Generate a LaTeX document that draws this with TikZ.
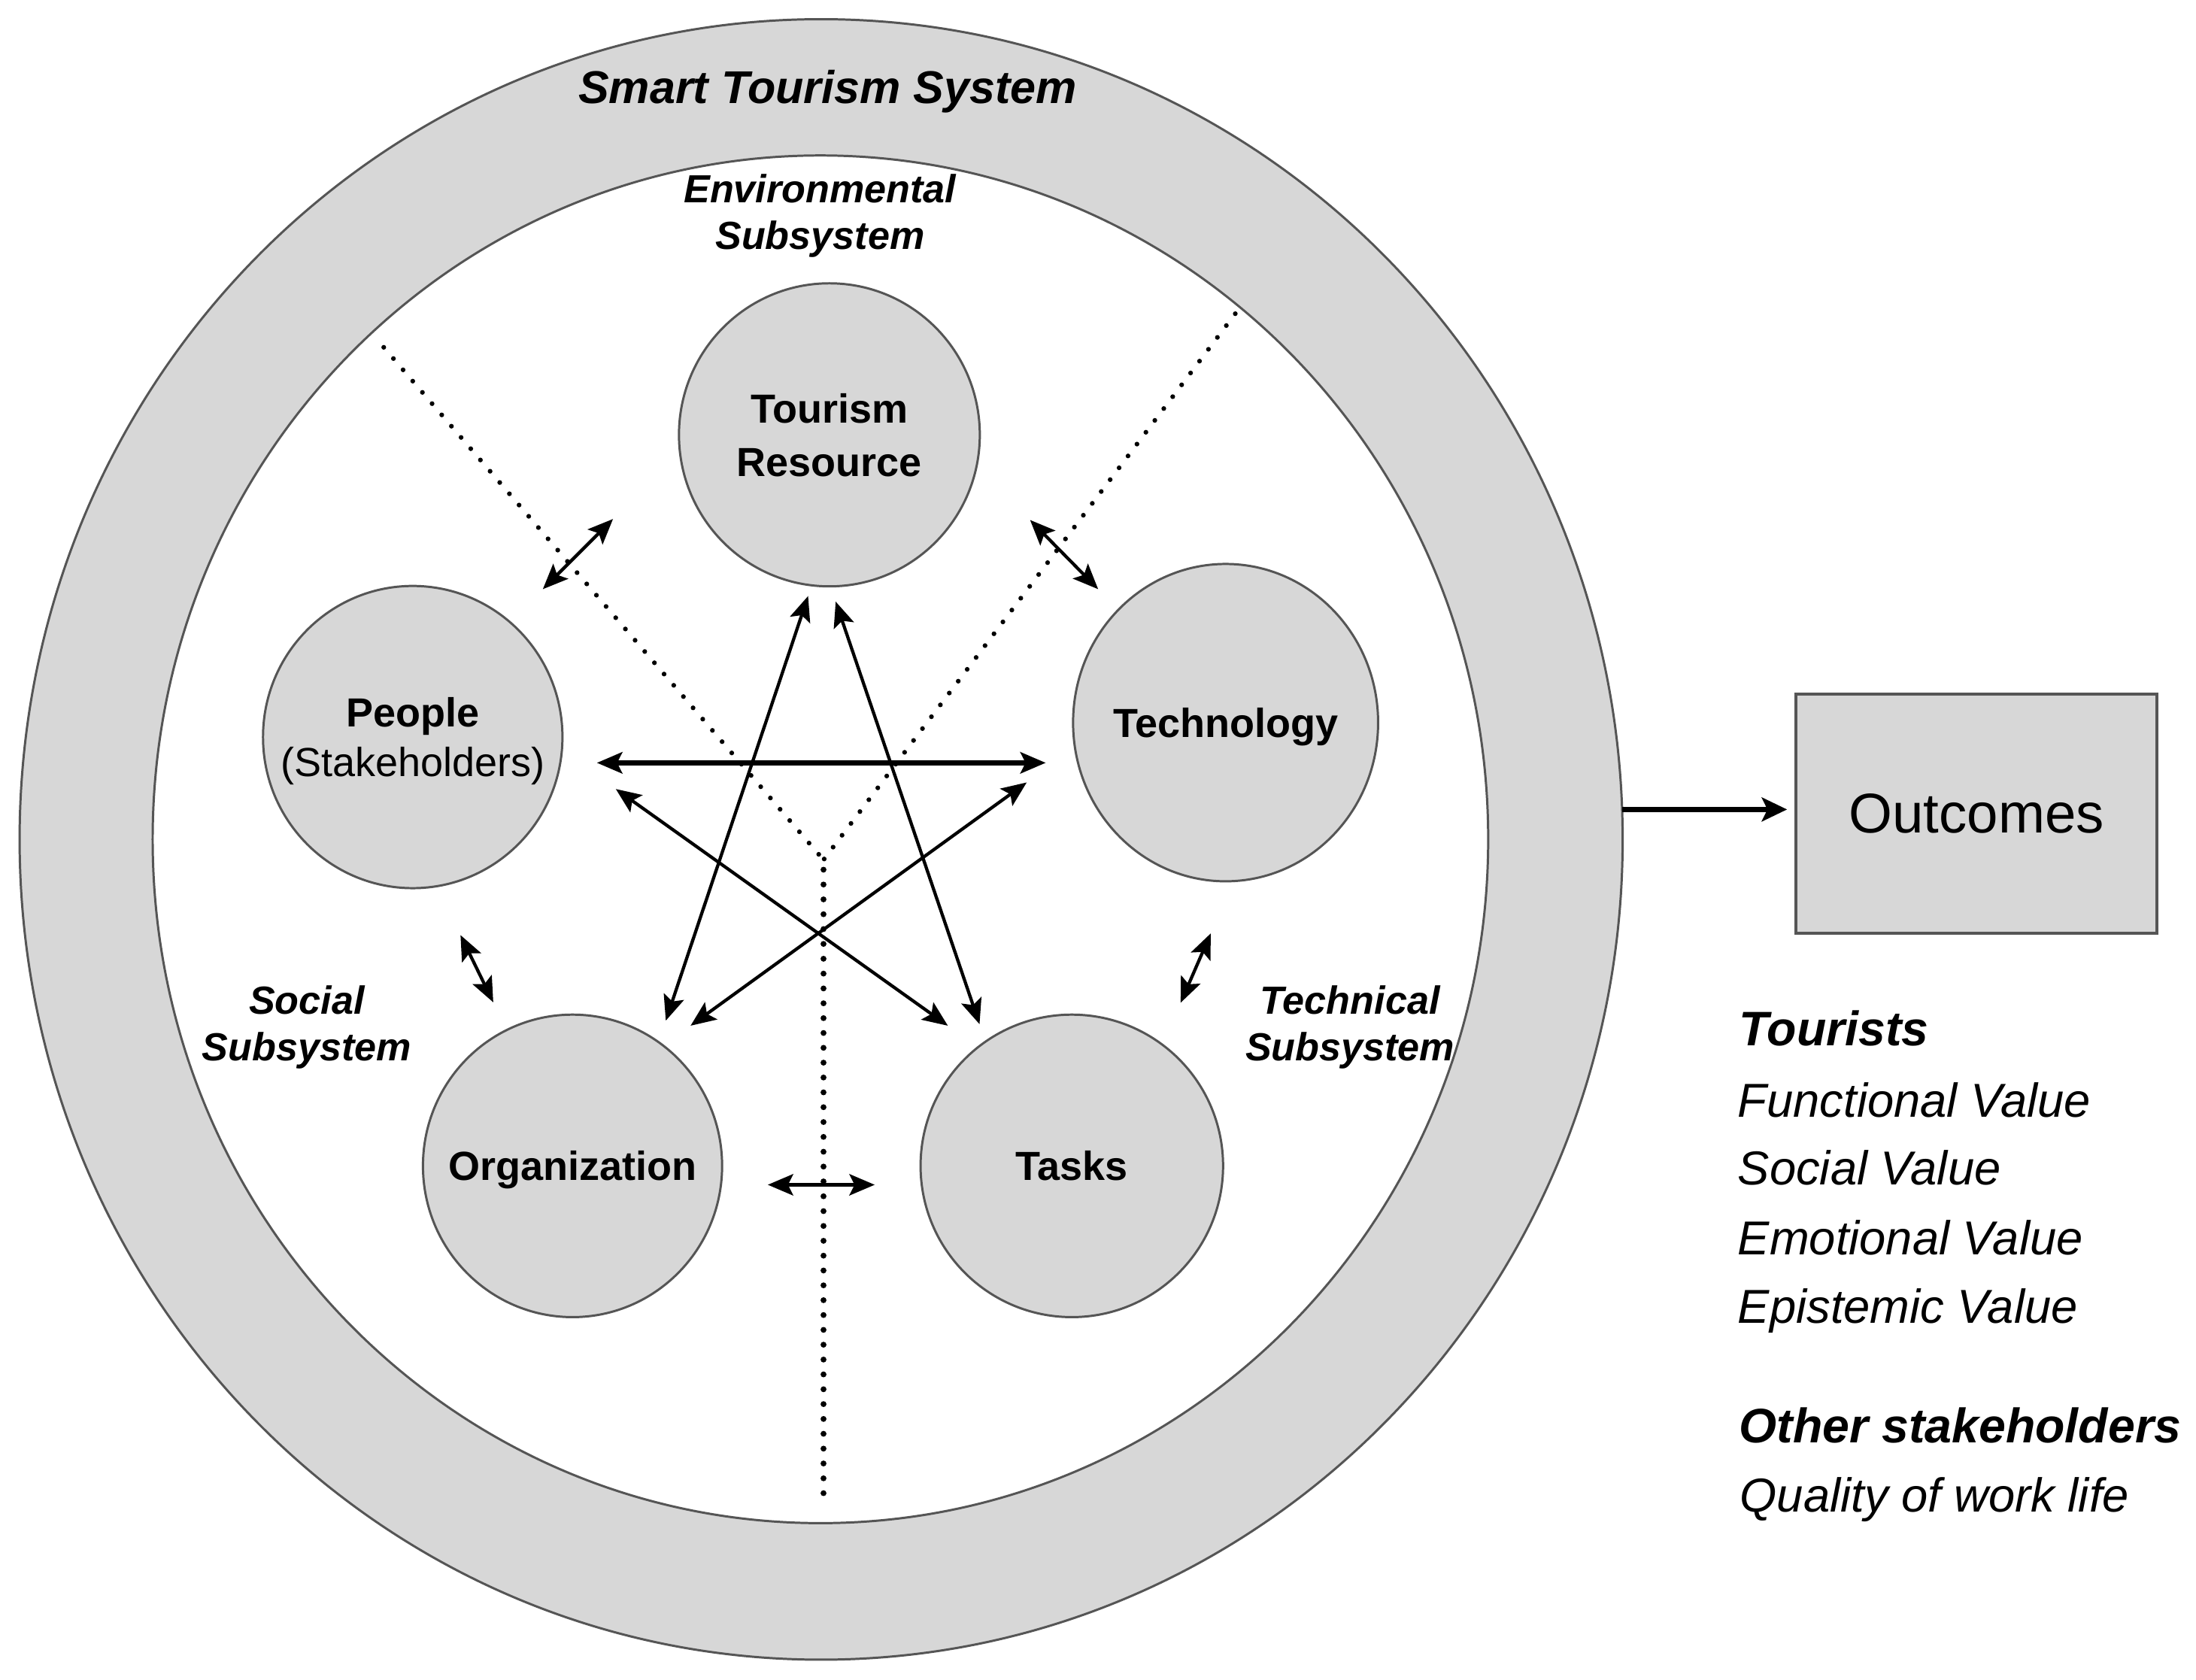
\documentclass[tikz,border=0pt]{standalone}
\usepackage{fontspec}
\setmainfont{Liberation Sans}
\usetikzlibrary{arrows.meta,shapes.geometric}
\definecolor{ringfill}{RGB}{215,215,215}
\definecolor{edgegray}{RGB}{85,85,85}
\begin{document}
\begin{tikzpicture}[x=0.5pt,y=-0.5pt,
  >={Stealth[length=9pt,width=7.5pt,inset=1.8pt]},
  ring/.style={ellipse, draw=edgegray, line width=0.8pt, inner sep=0pt},
  part/.style={ellipse, draw=edgegray, line width=0.8pt, fill=ringfill, inner xsep=-20pt, inner ysep=0pt, text depth=0pt, align=center, font=\fontsize{14.5}{18.9}\selectfont\bfseries},
  sublabel/.style={align=center, inner sep=0pt, text depth=0pt, font=\fontsize{14}{16.6}\selectfont\bfseries\itshape},
  rtext/.style={anchor=base west, inner sep=0pt, font=\fontsize{17}{20}\selectfont\itshape},
  rhead/.style={rtext, font=\fontsize{17.3}{20}\selectfont\bfseries\itshape},
  link/.style={<->, line width=1.15pt},
  divider/.style={line width=1.7pt, line cap=round, dash pattern=on 0pt off 5.3pt}
]
\useasboundingbox (0,0) rectangle (1568,1199.1);

% system ring
\node[ring, fill=ringfill, minimum width=572.3pt, minimum height=585.7pt] (sys) at (586.3,599.4) {};
\node[ring, fill=white, minimum width=476.8pt, minimum height=488.3pt] (inner) at (585.8,599.3) {};

% dividers
\coordinate (dTL) at (274,248);
\coordinate (dTR) at (882,224);
\coordinate (dV) at (588,614);
\coordinate (dV2) at (588,621);
\coordinate (dB) at (588,1074);
\draw[divider] (dTL) -- (dV);
\draw[divider] (dTR) -- (dV);
\draw[divider, line width=2.1pt] (dV2) -- (dB);

% labels
\node[anchor=base, inner sep=0pt, font=\fontsize{16.4}{20}\selectfont\bfseries\itshape] (sts) at (591,74) {Smart Tourism System};
\node[sublabel] (env) at (585.5,151.4) {Environmental\\Subsystem};
\node[sublabel, font=\fontsize{14}{16.8}\selectfont\bfseries\itshape] (soc) at (219,730.6) {Social\\Subsystem};
\node[sublabel, font=\fontsize{14}{16.8}\selectfont\bfseries\itshape] (tec) at (964,730.6) {Technical\\Subsystem};

% components
\node[part, minimum width=107.4pt, minimum height=108.2pt] (res) at (592.2,310.5) {Tourism\\Resource};
\node[part, minimum width=106.9pt, minimum height=107.9pt, font=\fontsize{14.5}{17.7}\selectfont\bfseries] (ppl) at (294.7,526.3) {People\\{\mdseries (Stakeholders)}};
\node[part, minimum width=108.9pt, minimum height=113.3pt] (tech) at (875.1,516) {Technology};
\node[part, minimum width=106.8pt, minimum height=108pt] (org) at (408.8,832.5) {Organization};
\node[part, minimum width=108pt, minimum height=108pt] (task) at (765.3,832.5) {Tasks};

% star arrows
\coordinate (a1) at (475.4,728.8); \coordinate (b1) at (577,425.6);
\coordinate (a2) at (699.4,731.3); \coordinate (b2) at (596.7,429.6);
\coordinate (a3) at (426.2,544.7); \coordinate (b3) at (746.7,544.7);
\coordinate (a4) at (439.7,563.4); \coordinate (b4) at (676.8,732.4);
\coordinate (a5) at (493.1,732.4); \coordinate (b5) at (733.1,558.7);
\draw[link] (a1) -- (b1);
\draw[link] (a2) -- (b2);
\draw[link, line width=1.8pt] (a3) -- (b3);
\draw[link] (a4) -- (b4);
\draw[link] (a5) -- (b5);

% neighbour arrows
\coordinate (c1) at (387.6,420.7); \coordinate (d1) at (437.7,370.6);
\coordinate (c2) at (735.5,371.3); \coordinate (d2) at (784.1,420.7);
\coordinate (c3) at (328.8,667.7); \coordinate (d3) at (352.2,715.7);
\coordinate (c4) at (864.5,666.5); \coordinate (d4) at (843,716);
\coordinate (c5) at (548.2,846); \coordinate (d5) at (624.6,846);
\draw[link] (c1) -- (d1);
\draw[link] (c2) -- (d2);
\draw[link] (c3) -- (d3);
\draw[link] (c4) -- (d4);
\draw[link, line width=1.6pt] (c5) -- (d5);

% outcomes
\node[draw=edgegray, line width=1pt, fill=ringfill, minimum width=128.9pt, minimum height=85.5pt, text depth=0pt, font=\fontsize{20}{24}\selectfont] (out) at (1411.2,581) {Outcomes};
\coordinate (o1) at (1158.5,578);
\coordinate (o2) at (1276,578);
\draw[->, line width=1.7pt, >={Stealth[length=9pt,width=8.5pt,inset=2pt]}] (o1) -- (o2);

\node[rhead] (tour) at (1241.5,746.5) {Tourists};
\node[rtext] (fv) at (1240.5,797.6) {Functional Value};
\node[rtext] (sv) at (1240.5,846) {Social Value};
\node[rtext] (ev) at (1240.5,896) {Emotional Value};
\node[rtext] (epv) at (1240.5,945) {Epistemic Value};
\node[rhead] (oth) at (1241.5,1030) {Other stakeholders};
\node[rtext] (qwl) at (1242,1079.5) {Quality of work life};
\end{tikzpicture}
\end{document}
